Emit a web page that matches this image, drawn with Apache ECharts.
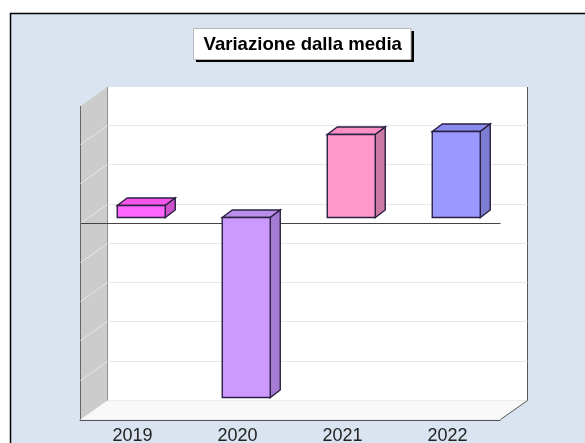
<!DOCTYPE html>
<html><head><meta charset="utf-8">
<style>html,body{margin:0;padding:0;background:#fff}#c{width:585px;height:443px}</style>
<script src="https://cdn.jsdelivr.net/npm/echarts@6/dist/echarts.min.js"></script>
</head><body><div id="c"></div>
<script>
const categories = ['2019','2020','2021','2022'];
const values = [0.32,-4.58,2.11,2.2];
const gridTicks = [-5,-4,-3,-2,-1,0,1,2,3];
const faceColors = ['#ff66ff','#cc99ff','#ff99cc','#9999ff'];
const topColors = ['#f655ee','#b98ee8','#f98fc4','#8b8bf0'];
const sideColors = ['#cc52cc','#a67bd4','#cc7aa3','#7c7cd0'];

const DX = 27, DY = -19;        // wall depth
const BX = 8, BY = -6;          // bar plane
const bdx = 10, bdy = -7.5;     // bar depth
const barW = 48;

const chart = echarts.init(document.getElementById('c'), null, {renderer:'canvas'});

function poly(points, fill, stroke, lw){
  return {type:'polygon', shape:{points}, silent:true,
    style:{fill, stroke: stroke||'none', lineWidth: lw||0}};
}
function seg(x1,y1,x2,y2,stroke,lw){
  return {type:'line', shape:{x1,y1,x2,y2}, silent:true, style:{stroke, lineWidth: lw||1}};
}

chart.setOption({
  animation:false,
  backgroundColor:'#ffffff',
  graphic:[
    {type:'rect', z:-10, silent:true,
     shape:{x:10.5,y:13.5,width:640,height:500},
     style:{fill:'#dae4f0',stroke:'#000',lineWidth:1.5}},
    {type:'rect', z:5, silent:true,
     shape:{x:196,y:31,width:218,height:31},
     style:{fill:'#000'}},
    {type:'rect', z:6, silent:true,
     shape:{x:193.5,y:28.5,width:217.5,height:31},
     style:{fill:'#fff',stroke:'#b8b8b8',lineWidth:1}}
  ],
  title:{
    text:'Variazione dalla media', left:193.5, top:28, z:10,
    padding:[7,10,7,10],
    textStyle:{fontFamily:'Liberation Sans',fontSize:18.6,fontWeight:'bold',color:'#000'}
  },
  grid:{left:80,top:106,width:420,height:314,containLabel:false,outerBoundsMode:'none'},
  xAxis:{type:'category',data:categories,
    axisLine:{onZero:false,lineStyle:{color:'#555',width:1}},
    axisTick:{show:false},
    axisLabel:{margin:7,fontFamily:'Liberation Sans',fontSize:18,color:'#222'}},
  yAxis:{type:'value',min:-5,max:3,interval:1,
    axisLine:{show:false},axisTick:{show:false},axisLabel:{show:false},splitLine:{show:false}},
  series:[
    {type:'custom',name:'walls',z:1,clip:false,silent:true,data:[[0,0]],
     renderItem(p,api){
       const c=p.coordSys, l=c.x+.5, t=c.y, r=c.x+c.width+.5, b=c.y+c.height-.5;
       return {type:'group',children:[
         poly([[l+DX,t+DY],[r+DX,t+DY],[r+DX,b+DY],[l+DX,b+DY]],'#ffffff'),
         poly([[l,t],[l+DX,t+DY],[l+DX,b+DY],[l,b]],'#cccccc'),
         poly([[l,b],[l+DX,b+DY],[r+DX,b+DY],[r,b]],'#f8f8f8'),
         seg(l+DX,b+DY,r+DX,b+DY,'#ececec'),
         seg(l,t,l,b,'#666'),
         seg(l+DX,t+DY,l+DX,b+DY,'#909090'),
         seg(r+DX,t+DY,r+DX,b+DY,'#555'),
         seg(r+DX,b+DY,r,b,'#555')
       ]};
     }},
    {type:'custom',name:'grid',z:2,clip:false,silent:true,
     data:gridTicks.filter(v=>v>-5&&v<3).map(v=>[0,v]),
     renderItem(p,api){
       const c=p.coordSys, l=c.x+.5, r=c.x+c.width+.5;
       const y=Math.floor(api.coord([0,api.value(1)])[1]-.6)+.5;
       return {type:'group',children:[
         seg(l+DX,y+DY,r+DX,y+DY,'#e8e8e8'),
         seg(l,y,l+DX,y+DY,'#e6e6e6')
       ]};
     }},
    {type:'custom',name:'zero',z:3,clip:false,silent:true,data:[[0,0]],
     renderItem(p,api){
       const c=p.coordSys, y=Math.floor(api.coord([0,0])[1]-.6)+.5;
       return seg(c.x+.5,y,c.x+c.width+.5,y,'#444');
     }},
    {type:'custom',name:'Variazione dalla media',z:4,clip:false,silent:true,
     data:values.map((v,i)=>[i,v]),
     renderItem(p,api){
       const i=api.value(0), v=api.value(1);
       const base=api.coord([i,0]), end=api.coord([i,v]);
       const x0=Math.round(base[0]+BX-barW/2)+.25, x1=x0+barW;
       const ya=Math.round(Math.min(base[1],end[1])+BY-.5)+.5;
       const yb=Math.round(Math.max(base[1],end[1])+BY-.5)+.5;
       const st='#2a2040';
       return {type:'group',children:[
         poly([[x0,ya],[x0+bdx,ya+bdy],[x1+bdx,ya+bdy],[x1,ya]],topColors[i],st,1.4),
         poly([[x1,ya],[x1+bdx,ya+bdy],[x1+bdx,yb+bdy],[x1,yb]],sideColors[i],st,1.4),
         poly([[x0,ya],[x1,ya],[x1,yb],[x0,yb]],faceColors[i],st,1.4)
       ]};
     }}
  ]
});
</script></body></html>
